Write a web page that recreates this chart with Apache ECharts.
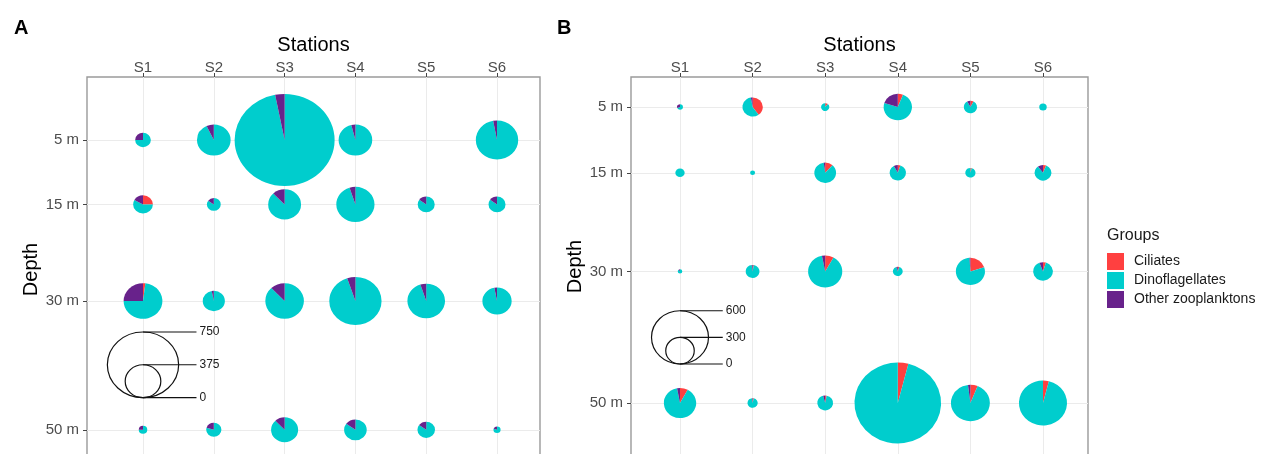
<!DOCTYPE html>
<html>
<head>
<meta charset="utf-8">
<script src="https://cdn.jsdelivr.net/npm/echarts@6/dist/echarts.min.js"></script>
<style>
  html, body { margin: 0; padding: 0; background: #fff; }
  #chart { width: 1274px; height: 454px; }
</style>
</head>
<body>
<div id="chart"></div>
<script>
// ---- Data ---------------------------------------------------------------
const stations = ['S1', 'S2', 'S3', 'S4', 'S5', 'S6'];
const depths = [5, 15, 30, 50];
const depthLabels = ['5 m', '15 m', '30 m', '50 m'];
const groups = ['Ciliates', 'Dinoflagellates', 'Other zooplanktons'];
const groupColors = ['#FF4040', '#00CDCD', '#68228B'];

// Panel A: abundance per group; rows follow depths, columns follow stations
const ciliatesA = [
  [0, 0, 0, 0, 0, 0],
  [52, 0, 0, 0, 0, 0],
  [8, 0, 0, 0, 0, 0],
  [0, 0, 0, 0, 0, 0]
];
const dinoA = [
  [124, 329, 1020, 340, 0, 433],
  [121, 124, 304, 382, 152, 152],
  [298, 226, 357, 522, 376, 299],
  [68, 128, 251, 202, 157, 60]
];
const otherA = [
  [41, 25, 32, 14, 0, 13],
  [35, 22, 42, 20, 27, 27],
  [102, 7, 49, 28, 20, 9],
  [22, 32, 34, 36, 28, 15]
];
const sizeBreaksA = [750, 375, 0];

// Panel B
const ciliatesB = [
  [0, 86, 10, 18, 11, 0],
  [0, 0, 27, 9, 5, 11],
  [0, 4, 29, 5, 61, 10],
  [27, 4, 5, 36, 25, 20]
];
const dinoB = [
  [43, 123, 77, 220, 118, 79],
  [98, 52, 197, 150, 103, 148],
  [43, 139, 320, 94, 242, 186],
  [303, 102, 155, 876, 377, 486]
];
const otherB = [
  [19, 6, 0, 60, 11, 0],
  [0, 0, 5, 14, 0, 18],
  [5, 3, 11, 5, 3, 12],
  [10, 2, 7, 0, 8, 0]
];
const sizeBreaksB = [600, 300, 0];

// ---- Helpers ------------------------------------------------------------
const FONT = '"Liberation Sans", Arial, Helvetica, sans-serif';
const stationPos = stations.map((s, i) => i + 1);

function pieRows(cil, dino, other) {
  const rows = [];
  depths.forEach((d, i) => {
    stations.forEach((s, j) => {
      rows.push([j + 1, d, cil[i][j], dino[i][j], other[i][j]]);
    });
  });
  return rows;
}

// Draws one scatter-pie per data row; radius grows linearly with the total count
function pieRenderer(k, sx) {
  return function (params, api) {
    const c = api.coord([api.value(0), api.value(1)]);
    const parts = [api.value(2), api.value(3), api.value(4)];
    const total = parts[0] + parts[1] + parts[2];
    if (!total) return;
    const r = api.size([0, total * k])[1];
    let a = -Math.PI / 2;
    const children = [];
    parts.forEach((v, g) => {
      if (!v) return;
      const b = a + v / total * Math.PI * 2;
      children.push({
        type: 'sector',
        shape: { cx: 0, cy: 0, r: r, r0: 0, startAngle: a, endAngle: b, clockwise: true },
        style: { fill: groupColors[g] }
      });
      a = b;
    });
    return { type: 'group', x: c[0], y: c[1], scaleX: sx, children: children };
  };
}

// Nested-circle size key with leader lines and labels
function sizeKeyRenderer(breaks, k, sx) {
  return function (params, api) {
    const base = api.coord([api.value(0), api.value(1)]);
    const rMax = api.size([0, breaks[0] * k])[1];
    const lineEnd = 1.5 * rMax * sx;
    const children = [];
    breaks.forEach(v => {
      const r = api.size([0, v * k])[1];
      if (r > 0) {
        children.push({
          type: 'group', x: 0, y: -r, scaleX: sx,
          children: [{
            type: 'circle', shape: { cx: 0, cy: 0, r: r },
            style: { fill: 'none', stroke: '#111', lineWidth: 1.1 }
          }]
        });
      }
      children.push({
        type: 'line', shape: { x1: 0, y1: -2 * r, x2: lineEnd, y2: -2 * r },
        style: { stroke: '#111', lineWidth: 1.1 }
      });
      children.push({
        type: 'text', x: lineEnd + 3, y: -2 * r,
        style: { text: String(v), fill: '#1a1a1a', fontSize: 12, fontFamily: FONT, verticalAlign: 'middle', align: 'left' }
      });
    });
    return { type: 'group', x: base[0], y: base[1], children: children };
  };
}

function xAxisFor(gridIndex, min, max) {
  return {
    type: 'value', gridIndex: gridIndex, position: 'top', min: min, max: max,
    name: 'Stations', nameLocation: 'middle', nameGap: 19,
    nameTextStyle: { fontSize: 20, color: '#000', fontFamily: FONT },
    axisLine: { show: false, onZero: false },
    axisTick: { show: true, length: 4, customValues: stationPos, lineStyle: { color: '#444', width: 1 } },
    axisLabel: {
      customValues: stationPos, formatter: v => stations[v - 1],
      fontSize: 15, color: '#4d4d4d', fontFamily: FONT, margin: 2
    },
    splitLine: { show: true, lineStyle: { color: '#ebebeb', width: 1 } }
  };
}

function yAxisFor(gridIndex, min, max) {
  return {
    type: 'value', gridIndex: gridIndex, position: 'left', inverse: true, min: min, max: max,
    name: 'Depth', nameLocation: 'middle', nameGap: 41, nameRotate: 90,
    nameTextStyle: { fontSize: 20, color: '#000', fontFamily: FONT },
    axisLine: { show: false, onZero: false },
    axisTick: { show: true, length: 4, customValues: depths, lineStyle: { color: '#444', width: 1 } },
    axisLabel: {
      customValues: depths, formatter: v => depthLabels[depths.indexOf(v)],
      fontSize: 15, color: '#4d4d4d', fontFamily: FONT, margin: 8
    },
    splitLine: { show: true, lineStyle: { color: '#ebebeb', width: 1 } }
  };
}

const gridStyle = {
  show: true, borderColor: '#9a9a9a', borderWidth: 1.4, backgroundColor: '#fff',
  outerBoundsMode: 'none', containLabel: false
};

const option = {
  animation: false,
  backgroundColor: '#fff',
  title: [
    { text: 'A', left: 9, top: 13, textStyle: { fontSize: 20, fontWeight: 'bold', color: '#000', fontFamily: FONT } },
    { text: 'B', left: 552, top: 13, textStyle: { fontSize: 20, fontWeight: 'bold', color: '#000', fontFamily: FONT } },
    { text: 'Groups', left: 1107, top: 228, padding: 0, textStyle: { fontSize: 16, fontWeight: 'normal', color: '#1a1a1a', fontFamily: FONT } }
  ],
  legend: {
    data: groups, orient: 'vertical', left: 1107, top: 253, padding: 0,
    icon: 'rect', itemWidth: 17, itemHeight: 17, itemGap: 2, selectedMode: false,
    textStyle: { fontSize: 14, color: '#1a1a1a', fontFamily: FONT, padding: [0, 0, 0, 5] }
  },
  grid: [
    Object.assign({ left: 87, top: 77, right: 734, bottom: -8 }, gridStyle),
    Object.assign({ left: 631, top: 77, right: 186, bottom: -2 }, gridStyle)
  ],
  xAxis: [xAxisFor(0, 0.209, 6.607), xAxisFor(1, 0.325, 6.62)],
  yAxis: [yAxisFor(0, -4.78, 55), yAxisFor(1, 0.44, 58.06)],
  series: [
    {
      type: 'custom', name: 'pies A', xAxisIndex: 0, yAxisIndex: 0, clip: false,
      renderItem: pieRenderer(0.00679, 1.087),
      data: pieRows(ciliatesA, dinoA, otherA), z: 3
    },
    {
      type: 'custom', name: 'pies B', xAxisIndex: 1, yAxisIndex: 1, clip: false,
      renderItem: pieRenderer(0.00675, 1.07),
      data: pieRows(ciliatesB, dinoB, otherB), z: 3
    },
    {
      type: 'custom', name: 'size A', xAxisIndex: 0, yAxisIndex: 0, clip: false,
      renderItem: sizeKeyRenderer(sizeBreaksA, 0.00679, 1.087),
      data: [[1, 45]], z: 3
    },
    {
      type: 'custom', name: 'size B', xAxisIndex: 1, yAxisIndex: 1, clip: false,
      renderItem: sizeKeyRenderer(sizeBreaksB, 0.00675, 1.07),
      data: [[1, 44.07]], z: 3
    }
  ].concat(groups.map((g, i) => ({
    type: 'scatter', name: g, xAxisIndex: 0, yAxisIndex: 0, data: [],
    itemStyle: { color: groupColors[i], opacity: 1 }
  })))
};

const chart = echarts.init(document.getElementById('chart'), null, { renderer: 'canvas' });
chart.setOption(option);
</script>
</body>
</html>
